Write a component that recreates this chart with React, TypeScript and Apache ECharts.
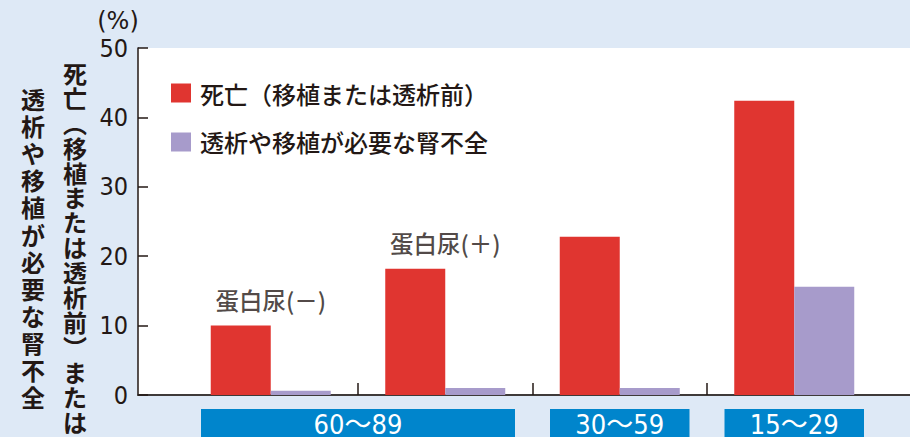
import React, { useEffect, useRef } from "react";
import * as echarts from "echarts";

// ---- data ----
const categories = ["60〜89 蛋白尿(－)", "60〜89 蛋白尿(＋)", "30〜59", "15〜29"];
const deathValues = [10, 18.2, 22.8, 42.4];
const kidneyFailureValues = [0.6, 1.0, 1.0, 15.6];
const proteinuriaLabels = ["蛋白尿(－)", "蛋白尿(＋)", "", ""];
const groupLabels = ["60〜89", "30〜59", "15〜29"];
const groupStart = [0, 2, 3];
const groupEnd = [1, 2, 3];
const yTicks = [0, 10, 20, 30, 40, 50];
const categoryBoundaries = [1, 2, 3];
const seriesNames = ["死亡（移植または透析前）", "透析や移植が必要な腎不全"];
const yTitle1 = "死亡︵移植または透析前︶または";
const yTitle2 = "透析や移植が必要な腎不全";

const INK = "#231815";
const CJK = "'Noto Sans CJK JP', 'Noto Sans CJK SC', sans-serif";
const NARROW = "'Liberation Sans Narrow', 'DejaVu Sans Condensed', 'Noto Sans CJK JP', sans-serif";

export default function App() {
  const ref = useRef<HTMLDivElement>(null);

  useEffect(() => {
    if (!ref.current) return;
    const chart = echarts.init(ref.current, null, { renderer: "svg" });

    const option: any = {
      animation: false,
      backgroundColor: "#dee9f6",
      legend: {
        data: seriesNames,
        orient: "vertical",
        left: 166,
        top: 76,
        itemWidth: 20,
        itemHeight: 19,
        itemGap: 25,
        icon: "rect",
        selectedMode: false,
        textStyle: { fontSize: 24, color: INK, fontFamily: CJK, fontWeight: 500, padding: [0, 0, 0, 4] },
      },
      grid: [
        { left: 138, top: 48, width: 772, height: 347, show: true, backgroundColor: "#ffffff", borderWidth: 0 },
        { left: 183.5, top: 48, width: 698, height: 347 },
      ],
      xAxis: [
        {
          gridIndex: 0,
          type: "value",
          min: 0,
          max: 1,
          axisLine: { show: true, lineStyle: { color: "#3e3a39", width: 2 } },
          axisTick: { show: false },
          axisLabel: { show: false },
          splitLine: { show: false },
        },
        {
          gridIndex: 1,
          type: "category",
          position: "bottom",
          data: categories,
          axisLine: { show: false },
          axisTick: { show: false },
          axisLabel: { show: false },
          splitLine: { show: false },
        },
        {
          gridIndex: 1,
          type: "value",
          position: "bottom",
          min: 0,
          max: 4,
          interval: 1,
          axisLine: { show: false },
          axisTick: {
            show: true,
            inside: true,
            length: 12,
            customValues: categoryBoundaries,
            lineStyle: { color: INK, width: 1.5 },
          },
          axisLabel: { show: false },
          splitLine: { show: false },
        },
      ],
      yAxis: [
        {
          gridIndex: 0,
          type: "value",
          min: yTicks[0],
          max: yTicks[yTicks.length - 1],
          interval: 10,
          axisLine: { show: true, lineStyle: { color: INK, width: 1.5 } },
          axisTick: { show: true, inside: true, length: 10, lineStyle: { color: INK, width: 1.5 } },
          axisLabel: { fontSize: 25, color: INK, fontFamily: NARROW, margin: 10 },
          splitLine: { show: false },
        },
        {
          gridIndex: 1,
          type: "value",
          min: yTicks[0],
          max: yTicks[yTicks.length - 1],
          show: false,
        },
      ],
      series: [
        {
          name: seriesNames[0],
          type: "bar",
          xAxisIndex: 1,
          yAxisIndex: 1,
          data: deathValues,
          barWidth: 60,
          barGap: "0%",
          itemStyle: { color: "#e03530" },
        },
        {
          name: seriesNames[1],
          type: "bar",
          xAxisIndex: 1,
          yAxisIndex: 1,
          data: kidneyFailureValues,
          barWidth: 60,
          barGap: "0%",
          itemStyle: { color: "#a79bcb" },
        },
        {
          name: "labels",
          type: "scatter",
          xAxisIndex: 1,
          yAxisIndex: 1,
          symbolSize: 0,
          silent: true,
          data: proteinuriaLabels
            .map((t, i) => ({ value: [i, deathValues[i]], text: t }))
            .filter((d) => d.text !== ""),
          label: {
            show: true,
            position: "top",
            distance: 14,
            fontSize: 23.5,
            color: INK,
            fontFamily: CJK,
            fontWeight: 500,
            formatter: (p: any) => proteinuriaLabels[p.value[0]],
          },
        },
        {
          name: "groups",
          type: "custom",
          xAxisIndex: 1,
          yAxisIndex: 1,
          silent: true,
          clip: false,
          encode: { x: [0, 1], y: 2 },
          data: groupLabels.map((_, i) => [groupStart[i], groupEnd[i], 0]),
          renderItem: (params: any, api: any) => {
            const s = api.value(0);
            const e = api.value(1);
            const band = api.size([1, 0])[0];
            const x0 = api.coord([s, 0])[0] - band / 2 + 17.5;
            const x1 = api.coord([e, 0])[0] + band / 2 - 17.5;
            const y0 = api.coord([s, 0])[1] + 14;
            return {
              type: "group",
              children: [
                { type: "rect", shape: { x: x0, y: y0, width: x1 - x0, height: 40 }, style: { fill: "#0085cc" } },
                {
                  type: "text",
                  style: {
                    text: groupLabels[params.dataIndex],
                    x: (x0 + x1) / 2,
                    y: y0 + 15,
                    align: "center",
                    verticalAlign: "middle",
                    fill: "#ffffff",
                    fontSize: 27,
                    fontFamily: NARROW,
                  },
                },
              ],
            };
          },
        },
      ],
      graphic: [
        {
          type: "text",
          x: 118,
          y: 21,
          style: {
            text: "(%)",
            fontSize: 24,
            fill: INK,
            fontFamily: "'DejaVu Sans', sans-serif",
            align: "center",
            verticalAlign: "middle",
          },
        },
        {
          type: "text",
          x: 75,
          y: 60,
          style: {
            text: yTitle1.split("").join("\n"),
            fontSize: 24,
            lineHeight: 24.9,
            fontWeight: "bold",
            fill: INK,
            fontFamily: CJK,
            align: "center",
            verticalAlign: "top",
          },
        },
        {
          type: "text",
          x: 33,
          y: 85,
          style: {
            text: yTitle2.split("").join("\n"),
            fontSize: 24,
            lineHeight: 27.1,
            fontWeight: "bold",
            fill: INK,
            fontFamily: CJK,
            align: "center",
            verticalAlign: "top",
          },
        },
      ],
    };

    chart.setOption(option);
    return () => chart.dispose();
  }, []);

  return (
    <div
      ref={ref}
      style={{ position: "fixed", left: 0, top: 0, width: 910, height: 437, background: "#dee9f6" }}
    />
  );
}
